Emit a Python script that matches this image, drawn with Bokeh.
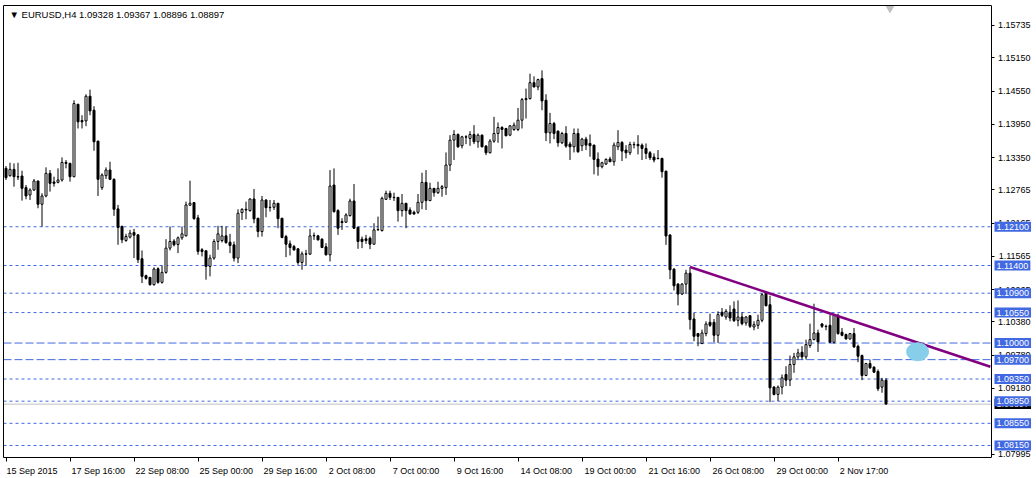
from bokeh.plotting import figure
from bokeh.models import (ColumnDataSource, FixedTicker, NumeralTickFormatter, Label,
                          Range1d, LinearAxis)
from bokeh.embed import file_html
from bokeh.resources import INLINE

# ---------------- data (EURUSD H4) ----------------
opens = [
    1.13154, 1.13022, 1.13136, 1.13004, 1.13016, 1.12806, 1.12674, 1.12764, 1.12926, 1.12506,
    1.12656, 1.13064, 1.12908, 1.12902, 1.12944, 1.13262, 1.13244, 1.13004, 1.14312, 1.14018,
    1.14012, 1.14456, 1.14204, 1.13646, 1.12806, 1.13022, 1.13124, 1.12956, 1.12422, 1.12104,
    1.11852, 1.11912, 1.11996, 1.11954, 1.11522, 1.11216, 1.11186, 1.11054, 1.11342, 1.11096,
    1.11276, 1.11714, 1.11840, 1.11780, 1.11900, 1.11936, 1.12488, 1.12536, 1.12260, 1.11684,
    1.11666, 1.11384, 1.11534, 1.11834, 1.11851, 1.11935, 1.11821, 1.11773, 1.11533, 1.12355,
    1.12415, 1.12391, 1.12601, 1.12253, 1.12013, 1.12583, 1.12445, 1.12451, 1.12523, 1.12253,
    1.11923, 1.11791, 1.11743, 1.11701, 1.11455, 1.11611, 1.11605, 1.11935, 1.11935, 1.11875,
    1.11737, 1.11593, 1.12853, 1.12391, 1.12193, 1.12181, 1.12301, 1.12565, 1.12091, 1.11875,
    1.11881, 1.11893, 1.11785, 1.12043, 1.12031, 1.12595, 1.12703, 1.12631, 1.12631, 1.12391,
    1.12523, 1.12403, 1.12361, 1.12361, 1.12541, 1.12901, 1.12571, 1.12793, 1.12715, 1.12793,
    1.12806, 1.13214, 1.13664, 1.13766, 1.13562, 1.13724, 1.13694, 1.13766, 1.13634, 1.13754,
    1.13556, 1.13436, 1.13646, 1.13784, 1.13892, 1.13874, 1.13754, 1.13856, 1.13856, 1.14024,
    1.14396, 1.14414, 1.14702, 1.14624, 1.14774, 1.14384, 1.13796, 1.13964, 1.13826, 1.13616,
    1.13784, 1.13592, 1.13544, 1.13784, 1.13562, 1.13682, 1.13604, 1.13574, 1.13322, 1.13184,
    1.13232, 1.13322, 1.13274, 1.13544, 1.13622, 1.13484, 1.13436, 1.13586, 1.13586, 1.13574,
    1.13514, 1.13436, 1.13358, 1.13334, 1.13334, 1.13104, 1.11952, 1.11334, 1.11064, 1.10884,
    1.11064, 1.11262, 1.10434, 1.10170, 1.09990, 1.10170, 1.10374, 1.10374, 1.10140, 1.10554,
    1.10470, 1.10554, 1.10614, 1.10410, 1.10470, 1.10362, 1.10494, 1.10290, 1.10320, 1.10410,
    1.10902, 1.10692, 1.09204, 1.09072, 1.09204, 1.09432, 1.09330, 1.09612, 1.09750, 1.09834,
    1.09750, 1.09954, 1.10062, 1.10182, 1.10344, 1.10302, 1.10320, 1.10014, 1.10500, 1.10194,
    1.10152, 1.10074, 1.10170, 1.09942, 1.09774, 1.09414, 1.09630, 1.09564, 1.09486, 1.09204,
    1.09328,
]
highs = [
    1.13196, 1.13256, 1.13244, 1.13256, 1.13112, 1.12854, 1.12794, 1.12962, 1.12930, 1.12704,
    1.13172, 1.13124, 1.13004, 1.13154, 1.13352, 1.13304, 1.13256, 1.14384, 1.14318, 1.14114,
    1.14492, 1.14576, 1.14276, 1.13652, 1.13064, 1.13172, 1.13274, 1.12974, 1.12494, 1.12122,
    1.11972, 1.12044, 1.12062, 1.11960, 1.11672, 1.11234, 1.11192, 1.11366, 1.11366, 1.11396,
    1.11876, 1.12104, 1.11876, 1.11924, 1.12104, 1.12554, 1.12932, 1.12540, 1.12314, 1.11714,
    1.11670, 1.11594, 1.11876, 1.12116, 1.12116, 1.12103, 1.11971, 1.11833, 1.12415, 1.12433,
    1.12553, 1.12613, 1.12781, 1.12260, 1.12655, 1.12595, 1.12583, 1.12583, 1.12530, 1.12260,
    1.11953, 1.11851, 1.11773, 1.11713, 1.11653, 1.11683, 1.12061, 1.11995, 1.11953, 1.11893,
    1.11803, 1.13123, 1.13153, 1.12415, 1.12253, 1.12343, 1.12607, 1.12871, 1.12095, 1.11923,
    1.11953, 1.11923, 1.12163, 1.12283, 1.12643, 1.12751, 1.12751, 1.12715, 1.12635, 1.12691,
    1.12530, 1.12451, 1.12391, 1.12691, 1.13075, 1.13123, 1.12895, 1.12800, 1.12913, 1.12853,
    1.13442, 1.13754, 1.13844, 1.13784, 1.13742, 1.13754, 1.13826, 1.13934, 1.13784, 1.13766,
    1.13574, 1.13682, 1.14084, 1.13982, 1.13916, 1.13886, 1.13934, 1.13982, 1.14246, 1.14426,
    1.14594, 1.14864, 1.14816, 1.14774, 1.14924, 1.14492, 1.14156, 1.13994, 1.13838, 1.13814,
    1.13916, 1.13634, 1.13874, 1.13874, 1.13706, 1.13724, 1.13766, 1.13580, 1.13442, 1.13274,
    1.13334, 1.13364, 1.13622, 1.13844, 1.13646, 1.13574, 1.13634, 1.13634, 1.13754, 1.13604,
    1.13604, 1.13466, 1.13424, 1.13484, 1.13346, 1.13110, 1.11960, 1.11352, 1.11082, 1.11082,
    1.11322, 1.11370, 1.10542, 1.10182, 1.10242, 1.10392, 1.10530, 1.10434, 1.10572, 1.10632,
    1.10614, 1.10680, 1.10752, 1.10770, 1.10554, 1.10482, 1.10500, 1.10392, 1.10512, 1.10902,
    1.10932, 1.10854, 1.09222, 1.09234, 1.09432, 1.09582, 1.09774, 1.09822, 1.09894, 1.09942,
    1.10062, 1.10350, 1.10710, 1.10242, 1.10362, 1.10332, 1.10512, 1.10530, 1.10530, 1.10272,
    1.10170, 1.10182, 1.10272, 1.09972, 1.09792, 1.09642, 1.09702, 1.09582, 1.09522, 1.09372,
    1.09367,
]
lows = [
    1.12944, 1.13004, 1.12824, 1.12944, 1.12572, 1.12596, 1.12584, 1.12746, 1.12434, 1.12104,
    1.12632, 1.12734, 1.12824, 1.12884, 1.12914, 1.13154, 1.12914, 1.12992, 1.13874, 1.13874,
    1.13916, 1.14114, 1.13472, 1.12656, 1.12764, 1.12962, 1.12944, 1.12296, 1.11774, 1.11804,
    1.11828, 1.11888, 1.11534, 1.11444, 1.11084, 1.11144, 1.11036, 1.11036, 1.11072, 1.11072,
    1.11252, 1.11672, 1.11744, 1.11624, 1.11864, 1.11924, 1.12488, 1.12224, 1.11594, 1.11564,
    1.11144, 1.11204, 1.11504, 1.11684, 1.11816, 1.11791, 1.11623, 1.11473, 1.11443, 1.12223,
    1.12235, 1.12373, 1.12163, 1.11911, 1.11923, 1.12271, 1.12373, 1.12403, 1.12073, 1.11893,
    1.11551, 1.11581, 1.11665, 1.11413, 1.11323, 1.11401, 1.11593, 1.11863, 1.11851, 1.11713,
    1.11581, 1.11473, 1.12355, 1.11953, 1.12043, 1.12175, 1.12283, 1.12065, 1.11701, 1.11713,
    1.11791, 1.11695, 1.11773, 1.12031, 1.12013, 1.12583, 1.12583, 1.12565, 1.12193, 1.12283,
    1.12073, 1.12313, 1.12313, 1.12331, 1.12415, 1.12403, 1.12565, 1.12643, 1.12691, 1.12643,
    1.12674, 1.13106, 1.13304, 1.13526, 1.13514, 1.13592, 1.13562, 1.13592, 1.13526, 1.13532,
    1.13394, 1.13424, 1.13616, 1.13616, 1.13514, 1.13736, 1.13736, 1.13832, 1.13826, 1.13874,
    1.14054, 1.14396, 1.14618, 1.14564, 1.14204, 1.13646, 1.13604, 1.13682, 1.13544, 1.13592,
    1.13526, 1.13304, 1.13442, 1.13436, 1.13466, 1.13484, 1.13364, 1.13046, 1.13022, 1.13154,
    1.13214, 1.13268, 1.13202, 1.13484, 1.13286, 1.13334, 1.13394, 1.13514, 1.13406, 1.13304,
    1.13322, 1.13304, 1.13262, 1.13322, 1.12986, 1.11772, 1.11154, 1.10950, 1.10680, 1.10872,
    1.10884, 1.10242, 1.10032, 1.09942, 1.09984, 1.10122, 1.10290, 1.10014, 1.10002, 1.10470,
    1.10422, 1.10392, 1.10380, 1.10302, 1.10320, 1.10314, 1.10272, 1.10230, 1.10254, 1.10374,
    1.10662, 1.08934, 1.09054, 1.08952, 1.09072, 1.09222, 1.09222, 1.09462, 1.09702, 1.09702,
    1.09702, 1.09912, 1.10050, 1.09840, 1.10272, 1.10230, 1.10002, 1.09990, 1.10152, 1.10122,
    1.10062, 1.10062, 1.09912, 1.09654, 1.09330, 1.09402, 1.09534, 1.09462, 1.09132, 1.09102,
    1.08896,
]
closes = [
    1.12986, 1.13136, 1.13004, 1.12998, 1.12794, 1.12656, 1.12764, 1.12926, 1.12506, 1.12656,
    1.13064, 1.12884, 1.12884, 1.12944, 1.13262, 1.13244, 1.13004, 1.14324, 1.13994, 1.13994,
    1.14456, 1.14192, 1.13634, 1.12956, 1.13034, 1.13124, 1.12956, 1.12416, 1.12086, 1.11864,
    1.11924, 1.11984, 1.11948, 1.11504, 1.11204, 1.11168, 1.11054, 1.11336, 1.11096, 1.11276,
    1.11714, 1.11834, 1.11774, 1.11900, 1.11972, 1.12494, 1.12524, 1.12248, 1.11654, 1.11654,
    1.11384, 1.11534, 1.11834, 1.11972, 1.11935, 1.11815, 1.11761, 1.11533, 1.12343, 1.12415,
    1.12403, 1.12601, 1.12241, 1.12013, 1.12583, 1.12445, 1.12451, 1.12523, 1.12247, 1.11905,
    1.11785, 1.11725, 1.11683, 1.11455, 1.11611, 1.11605, 1.11935, 1.11941, 1.11863, 1.11725,
    1.11593, 1.12835, 1.12373, 1.12073, 1.12175, 1.12313, 1.12565, 1.12073, 1.11833, 1.11833,
    1.11851, 1.11785, 1.12043, 1.12049, 1.12613, 1.12703, 1.12631, 1.12625, 1.12391, 1.12523,
    1.12391, 1.12331, 1.12331, 1.12541, 1.12901, 1.12571, 1.12793, 1.12715, 1.12793, 1.12823,
    1.13214, 1.13664, 1.13766, 1.13544, 1.13724, 1.13718, 1.13766, 1.13634, 1.13754, 1.13544,
    1.13436, 1.13646, 1.13784, 1.13892, 1.13856, 1.13742, 1.13922, 1.13934, 1.14024, 1.14396,
    1.14414, 1.14702, 1.14624, 1.14756, 1.14372, 1.13796, 1.13964, 1.13784, 1.13616, 1.13784,
    1.13556, 1.13544, 1.13784, 1.13454, 1.13682, 1.13574, 1.13562, 1.13316, 1.13184, 1.13256,
    1.13316, 1.13274, 1.13574, 1.13622, 1.13466, 1.13436, 1.13586, 1.13580, 1.13562, 1.13514,
    1.13424, 1.13346, 1.13304, 1.13328, 1.13094, 1.11934, 1.11322, 1.11034, 1.10884, 1.11064,
    1.11262, 1.10422, 1.10122, 1.10122, 1.10182, 1.10344, 1.10320, 1.10140, 1.10512, 1.10500,
    1.10572, 1.10452, 1.10404, 1.10470, 1.10350, 1.10470, 1.10302, 1.10332, 1.10410, 1.10872,
    1.10674, 1.09192, 1.09072, 1.09204, 1.09372, 1.09330, 1.09612, 1.09750, 1.09822, 1.09750,
    1.09972, 1.10062, 1.10182, 1.10020, 1.10302, 1.10296, 1.10014, 1.10500, 1.10170, 1.10140,
    1.10074, 1.10170, 1.09930, 1.09762, 1.09414, 1.09630, 1.09552, 1.09474, 1.09174, 1.09330,
    1.08897,
]

tick_bars = [0, 16, 32, 48, 64, 80, 96, 112, 128, 144, 160, 176, 192, 208]
tick_labels = ["15 Sep 2015", "17 Sep 16:00", "22 Sep 08:00", "25 Sep 00:00", "29 Sep 16:00",
               "2 Oct 08:00", "7 Oct 00:00", "9 Oct 16:00", "14 Oct 08:00", "19 Oct 00:00",
               "21 Oct 16:00", "26 Oct 08:00", "29 Oct 00:00", "2 Nov 17:00"]

price_ticks = [1.15735, 1.15150, 1.14550, 1.13950, 1.13350, 1.12765, 1.12165, 1.11565,
               1.10965, 1.10380, 1.09780, 1.09180, 1.07995]

levels = [1.12100, 1.11400, 1.10900, 1.10550, 1.10000, 1.09700, 1.09350, 1.08950, 1.08550, 1.08150]
level_styles = ["dot", "dot", "dot", "dot", "dash", "dash", "dot", "dot", "dot", "dot"]

bid_price = 1.08897
trend_bars = [171, 246.1]
trend_prices = [1.11374, 1.09572]
marker_bar = [227.9]
marker_price = [1.09843]

title_text = "\u25BC EURUSD,H4  1.09328 1.09367 1.08896 1.08897"

# ---------------- figure ----------------
W, H = 1036, 478
LB, TB, BB = 3, 5, 20
FW = W - LB              # frame spans the price-label column as well
CHART_W = 988            # width of the candle area (up to the price scale line)
FONT = "Liberation Sans"
FS = "9px"
BLUE = "#4169e1"
PXB = 4.0                # pixels per bar
X0 = -0.625
X1 = X0 + CHART_W / PXB  # position of the price scale line
XE = X0 + FW / PXB

p = figure(width=W, height=H, output_backend="svg", toolbar_location=None,
           y_axis_location=None, x_axis_location=None,
           x_range=Range1d(X0, XE), y_range=Range1d(1.07933, 1.16095),
           min_border_left=LB, min_border_top=TB, min_border_right=0, min_border_bottom=BB,
           background_fill_color="white", border_fill_color="white")
p.grid.visible = False
p.outline_line_color = None


def bare_axis(**kw):
    ax = LinearAxis(ticker=FixedTicker(ticks=[]), **kw)
    ax.major_tick_out = 0
    ax.major_tick_in = 0
    ax.minor_tick_line_color = None
    ax.major_label_standoff = 0
    ax.axis_line_color = "black"
    return ax


# frame border: top and left
p.add_layout(bare_axis(bounds=(X0, X1)), "above")
p.add_layout(bare_axis(), "left")

# price scale: drawn at the right edge of the candle area, labels to its right
ya = LinearAxis(fixed_location=X1, ticker=FixedTicker(ticks=price_ticks),
                formatter=NumeralTickFormatter(format="0.00000"))
ya.minor_tick_line_color = None
ya.major_tick_in = 3
ya.major_tick_out = 0
ya.major_label_standoff = -39
ya.major_label_text_font = FONT
ya.major_label_text_font_size = FS
ya.major_label_text_color = "black"
ya.axis_line_color = "black"
ya.axis_label = " "
ya.axis_label_text_font_size = "6px"
ya.axis_label_standoff = 2
p.add_layout(ya, "left")

# bottom axis: tick marks at the bar positions
xa = LinearAxis(ticker=FixedTicker(ticks=tick_bars), bounds=(X0, X1),
                major_label_overrides={b: "" for b in tick_bars})
xa.minor_tick_line_color = None
xa.major_tick_in = 0
xa.major_tick_out = 4
xa.major_label_standoff = 0
xa.major_label_text_font_size = "1px"
xa.axis_line_color = "black"
p.add_layout(xa, "below")

# bottom axis labels, left aligned to the ticks (label centre shifted by half its width)
shift = [(len(t) * 4.55 / 2 + 1) / PXB for t in tick_labels]
label_pos = [round(b + s, 4) for b, s in zip(tick_bars, shift)]
xl = LinearAxis(ticker=FixedTicker(ticks=label_pos),
                major_label_overrides={pos: t for pos, t in zip(label_pos, tick_labels)})
xl.axis_line_color = None
xl.major_tick_line_color = None
xl.minor_tick_line_color = None
xl.major_label_standoff = -2
xl.major_label_text_font = FONT
xl.major_label_text_font_size = FS
xl.major_label_text_color = "black"
p.add_layout(xl, "below")

# horizontal levels (stop at the price scale)
dot_lv = [l for l, s in zip(levels, level_styles) if s == "dot"]
dash_lv = [l for l, s in zip(levels, level_styles) if s == "dash"]
p.segment(x0=[X0] * len(dot_lv), x1=[X1] * len(dot_lv), y0=dot_lv, y1=dot_lv,
          line_color=BLUE, line_width=1, line_dash="3 3")
p.segment(x0=[X0] * len(dash_lv), x1=[X1] * len(dash_lv), y0=dash_lv, y1=dash_lv,
          line_color=BLUE, line_width=1, line_dash="8 3")
p.segment(x0=[X0], x1=[X1], y0=[bid_price], y1=[bid_price], line_color="#c0c0c0", line_width=1)

# candles
idx = list(range(len(closes)))
bull = [c >= o for o, c in zip(opens, closes)]
src = ColumnDataSource(dict(
    x=idx, o=opens, h=highs, l=lows, c=closes,
    top=[max(o, c) for o, c in zip(opens, closes)],
    bot=[min(o, c) for o, c in zip(opens, closes)],
    fill=["white" if b else "black" for b in bull],
))
p.segment(x0="x", y0="h", x1="x", y1="l", source=src, line_color="black", line_width=1)
p.vbar(x="x", top="top", bottom="bot", width=0.5, source=src, fill_color="fill",
       line_color="black", line_width=1)

# trend line and marker
p.line(trend_bars, trend_prices, line_color="#800080", line_width=2.5)
p.ellipse(x=marker_bar, y=marker_price, width=22, height=18, width_units="screen",
          height_units="screen", fill_color="#87ceeb", line_color="#87ceeb", fill_alpha=1.0)

# top shift marker
p.scatter(x=[221], y=[1.1606], marker="inverted_triangle", size=9,
          fill_color="#c0c0c0", line_color="#c0c0c0")

# title
p.add_layout(Label(x=6, y=449, x_units="screen", y_units="screen", text=title_text,
                   text_font=FONT, text_font_size="9.5px", text_color="black",
                   text_baseline="top", text_align="left"))

# price labels right of the price scale
LX = X1 + 0.75
p.add_layout(Label(x=LX, y=bid_price, text="1.08897", text_font=FONT, text_font_size=FS,
                   text_color="white", text_baseline="middle", text_align="left",
                   background_fill_color="black", padding=2))
for lvl in levels:
    p.add_layout(Label(x=LX, y=lvl, text=f"{lvl:.5f}", text_font=FONT, text_font_size=FS,
                       text_color="white", text_baseline="middle", text_align="left",
                       background_fill_color=BLUE, padding=2))

open("out.html", "w").write(file_html(p, INLINE))
